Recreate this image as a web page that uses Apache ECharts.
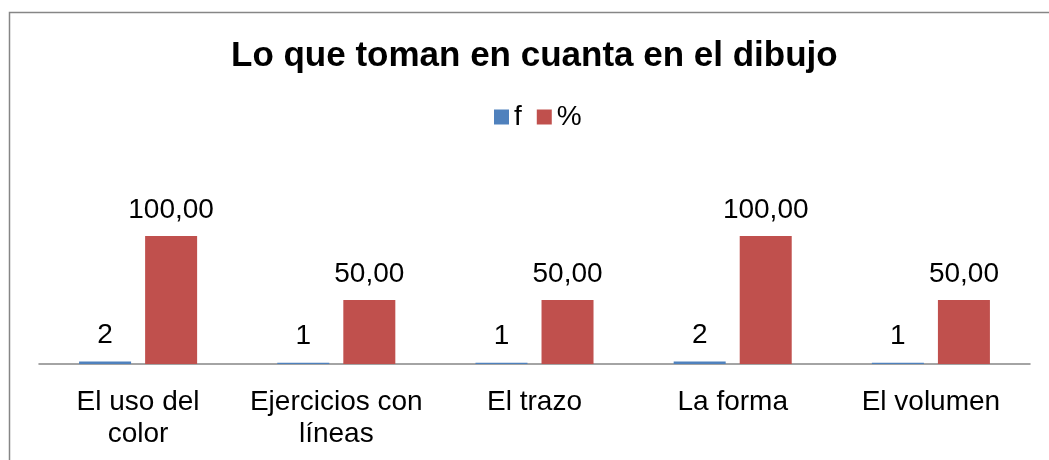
<!DOCTYPE html>
<html lang="es">
<head>
    <meta charset="UTF-8">
    <title>Lo que toman en cuanta en el dibujo</title>
    <script src="https://cdn.jsdelivr.net/npm/echarts@6/dist/echarts.min.js"></script>
    <style>
        html, body { margin: 0; padding: 0; background: #fff; }
        #chart { width: 1049px; height: 460px; }
    </style>
</head>
<body>
<div id="chart"></div>
<script>
  var CATEGORIES = ['El uso del\ncolor', 'Ejercicios con\nlíneas', 'El trazo', 'La forma', 'El volumen'];
  var F_VALUES = [2, 1, 1, 2, 1];
  var PCT_VALUES = [100, 50, 50, 100, 50];
  var SERIES_NAMES = ['f', '%'];

  var FONT = '"Liberation Sans", Arial, sans-serif';

  var myChart = echarts.init(document.getElementById('chart'));

  myChart.setOption({
    animation: false,
    textStyle: { fontFamily: FONT },
    title: {
      text: 'Lo que toman en cuanta en el dibujo',
      left: 226,
      top: 34,
      textStyle: { fontFamily: FONT, fontSize: 35, fontWeight: 'bold', color: '#000' }
    },
    legend: {
      top: 98,
      left: 489,
      itemWidth: 15,
      itemHeight: 15,
      itemGap: 15,
      icon: 'rect',
      textStyle: { fontFamily: FONT, fontSize: 28, color: '#000' },
      data: SERIES_NAMES
    },
    graphic: [{
      type: 'rect',
      shape: { x: 9.5, y: 12.5, width: 1100, height: 500 },
      style: { fill: 'none', stroke: '#868686', lineWidth: 1.5 },
      silent: true
    }],
    grid: { left: 39, right: 19, top: 236, bottom: 96 },
    xAxis: {
      type: 'category',
      data: CATEGORIES,
      axisLine: { lineStyle: { color: '#868686', width: 1.5 } },
      axisTick: { show: false },
      axisLabel: {
        color: '#000',
        fontFamily: FONT,
        fontSize: 28,
        lineHeight: 32,
        margin: 22,
        interval: 0
      }
    },
    yAxis: {
      type: 'value',
      min: 0,
      max: 100,
      show: false,
      splitLine: { show: false }
    },
    series: [
      {
        name: SERIES_NAMES[0],
        type: 'bar',
        data: F_VALUES,
        barWidth: 52,
        barGap: '27%',
        itemStyle: { color: '#4F81BD' },
        label: {
          show: true,
          position: 'top',
          distance: 12,
          color: '#000',
          fontFamily: FONT,
          fontSize: 28
        }
      },
      {
        name: SERIES_NAMES[1],
        type: 'bar',
        data: PCT_VALUES,
        barWidth: 52,
        barGap: '27%',
        itemStyle: { color: '#C0504D' },
        label: {
          show: true,
          position: 'top',
          distance: 12,
          color: '#000',
          fontFamily: FONT,
          fontSize: 28,
          formatter: function (p) {
            return p.value.toFixed(2).replace('.', ',');
          }
        }
      }
    ]
  });
</script>
</body>
</html>
